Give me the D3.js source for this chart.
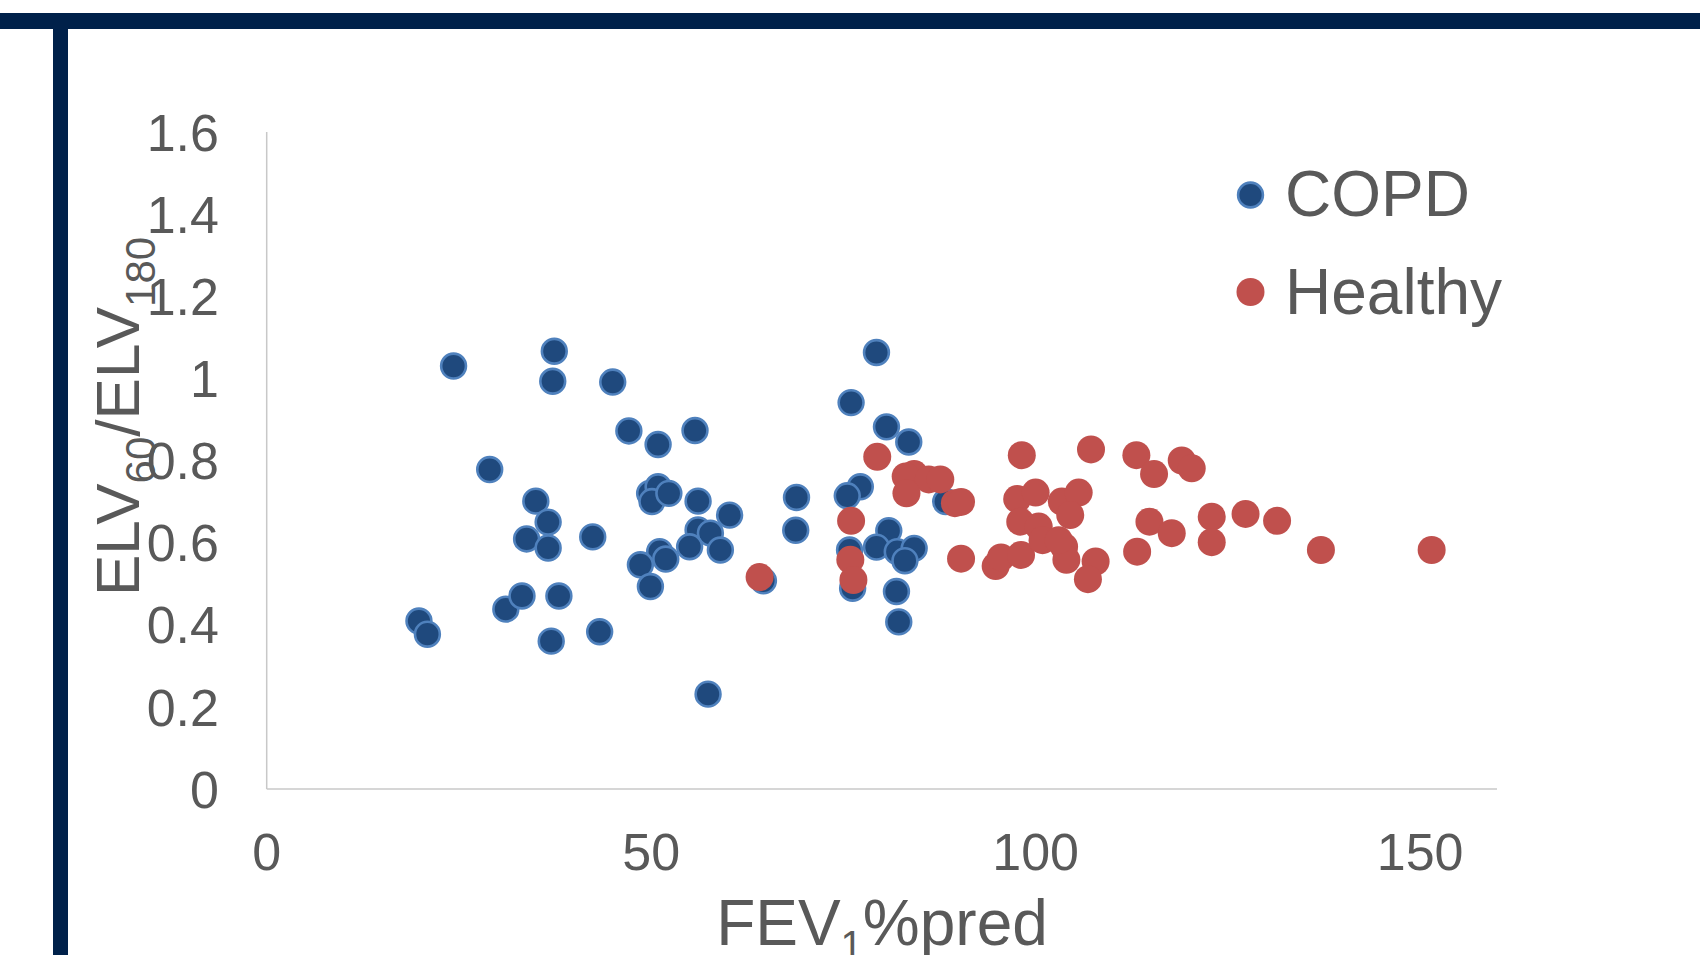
<!DOCTYPE html>
<html>
<head>
<meta charset="utf-8">
<script src="https://cdn.jsdelivr.net/npm/d3@7"></script>
<style>
  body { margin: 0; background: #fff; }
  text { font-family: 'Liberation Sans', Arial, sans-serif; fill: #595959; }
</style>
</head>
<body>
<div id="chart"></div>
<script>
const copdFev = [24.3, 37.4, 37.2, 45.0, 47.1, 50.9, 55.7, 29.0, 35.0, 36.6, 33.8, 36.6, 42.4,
  49.8, 50.9, 50.1, 52.3, 56.1, 60.2, 56.1, 57.7, 55.0, 59.0, 51.1, 51.9, 48.6, 49.9, 64.6,
  31.1, 33.2, 38.0, 19.8, 20.9, 37.0, 43.3, 57.4,
  79.3, 76.0, 80.6, 83.5, 77.2, 75.5, 68.9, 68.8, 80.9, 79.3, 82.0, 84.2, 83.0, 75.8, 76.2,
  81.9, 82.2, 88.3];
const copdRatio = [1.030, 1.066, 0.993, 0.991, 0.872, 0.839, 0.873, 0.778, 0.701, 0.650, 0.609, 0.587, 0.614,
  0.720, 0.736, 0.700, 0.720, 0.701, 0.667, 0.631, 0.623, 0.590, 0.582, 0.578, 0.560, 0.546, 0.493, 0.507,
  0.438, 0.470, 0.470, 0.409, 0.377, 0.360, 0.383, 0.231,
  1.063, 0.941, 0.882, 0.845, 0.736, 0.714, 0.710, 0.630, 0.629, 0.589, 0.578, 0.586, 0.556, 0.582, 0.489,
  0.481, 0.407, 0.700];

const healthyFev = [79.4, 84.2, 83.1, 86.1, 87.6, 83.2, 89.5, 90.3, 76.0, 75.9, 76.3, 90.3, 94.8, 95.5,
  98.2, 97.6, 100.0, 98.0, 100.4, 98.1, 100.9, 103.4, 105.6, 104.5, 103.7, 104.0, 107.8, 106.8,
  107.2, 113.1, 115.4, 119.0, 120.3, 114.8, 117.7, 122.9, 127.3, 131.4, 113.2, 122.9, 137.1, 151.5,
  64.1, 103.0];
const healthyRatio = [0.809, 0.767, 0.761, 0.754, 0.754, 0.720, 0.696, 0.699, 0.653, 0.558, 0.509, 0.561, 0.543, 0.564,
  0.813, 0.706, 0.722, 0.651, 0.639, 0.570, 0.606, 0.700, 0.722, 0.667, 0.590, 0.558, 0.554, 0.511,
  0.827, 0.813, 0.767, 0.800, 0.781, 0.651, 0.623, 0.663, 0.670, 0.653, 0.578, 0.601, 0.582, 0.582,
  0.516, 0.606];

const xTicks = [0, 50, 100, 150];
const yTicks = [0, 0.2, 0.4, 0.6, 0.8, 1, 1.2, 1.4, 1.6];

const width = 1700;
const height = 955;

const svg = d3.select('#chart')
  .append('svg')
  .attr('width', width)
  .attr('height', height);

// slide frame
svg.append('rect').attr('x', 0).attr('y', 13).attr('width', width).attr('height', 16).attr('fill', '#00214a');
svg.append('rect').attr('x', 53).attr('y', 13).attr('width', 15).attr('height', height).attr('fill', '#00214a');

const x = d3.scaleLinear().domain([0, 160]).range([266.7, 1497]);
const y = d3.scaleLinear().domain([0, 1.6]).range([789, 132]);

// axis lines
svg.append('line')
  .attr('x1', x(0)).attr('x2', x(0)).attr('y1', y(1.6)).attr('y2', y(0))
  .attr('stroke', '#c8c8c8').attr('stroke-width', 1.5);
svg.append('line')
  .attr('x1', x(0)).attr('x2', x(160)).attr('y1', y(0)).attr('y2', y(0))
  .attr('stroke', '#c8c8c8').attr('stroke-width', 1.5);

svg.selectAll('.y-label')
  .data(yTicks)
  .enter()
  .append('text')
  .attr('class', 'y-label')
  .attr('x', 219)
  .attr('y', (d) => y(d))
  .attr('dy', '0.36em')
  .attr('text-anchor', 'end')
  .attr('font-size', 52)
  .text((d) => d);

svg.selectAll('.x-label')
  .data(xTicks)
  .enter()
  .append('text')
  .attr('class', 'x-label')
  .attr('x', (d) => x(d))
  .attr('y', 870)
  .attr('text-anchor', 'middle')
  .attr('font-size', 52)
  .text((d) => d);

// axis titles
const xTitle = svg.append('text')
  .attr('x', 882)
  .attr('y', 945)
  .attr('text-anchor', 'middle')
  .attr('font-size', 64);
xTitle.append('tspan').text('FEV');
xTitle.append('tspan').attr('font-size', 40).attr('dy', 14).text('1');
xTitle.append('tspan').attr('dy', -14).text('%pred');

const yTitle = svg.append('text')
  .attr('transform', 'translate(139, 596) rotate(-90)')
  .attr('text-anchor', 'start')
  .attr('font-size', 62);
yTitle.append('tspan').text('ELV');
yTitle.append('tspan').attr('font-size', 42).attr('dy', 16).text('60');
yTitle.append('tspan').attr('dy', -16).text('/ELV');
yTitle.append('tspan').attr('font-size', 42).attr('dy', 16).text('180');

// points
const copd = copdFev.map((v, i) => ({ fev: v, ratio: copdRatio[i] }));
const healthy = healthyFev.map((v, i) => ({ fev: v, ratio: healthyRatio[i] }));

svg.selectAll('.copd')
  .data(copd)
  .enter()
  .append('circle')
  .attr('class', 'copd')
  .attr('cx', (d) => x(d.fev))
  .attr('cy', (d) => y(d.ratio))
  .attr('r', 12.4)
  .attr('fill', '#1f497d')
  .attr('stroke', '#4f81bd')
  .attr('stroke-width', 2.6);

svg.selectAll('.healthy')
  .data(healthy)
  .enter()
  .append('circle')
  .attr('class', 'healthy')
  .attr('cx', (d) => x(d.fev))
  .attr('cy', (d) => y(d.ratio))
  .attr('r', 14)
  .attr('fill', '#c0504d');

// legend
const legend = [
  { name: 'COPD', fill: '#1f497d', stroke: '#4f81bd', cy: 195, ty: 216 },
  { name: 'Healthy', fill: '#c0504d', stroke: 'none', cy: 292, ty: 314 }
];
svg.selectAll('.legend-dot')
  .data(legend)
  .enter()
  .append('circle')
  .attr('class', 'legend-dot')
  .attr('cx', 1250.5)
  .attr('cy', (d) => d.cy)
  .attr('r', (d) => (d.stroke === 'none' ? 14 : 12.4))
  .attr('fill', (d) => d.fill)
  .attr('stroke', (d) => d.stroke)
  .attr('stroke-width', 2.6);
svg.selectAll('.legend-label')
  .data(legend)
  .enter()
  .append('text')
  .attr('class', 'legend-label')
  .attr('x', 1285)
  .attr('y', (d) => d.ty)
  .attr('font-size', 64)
  .text((d) => d.name);
</script>
</body>
</html>
